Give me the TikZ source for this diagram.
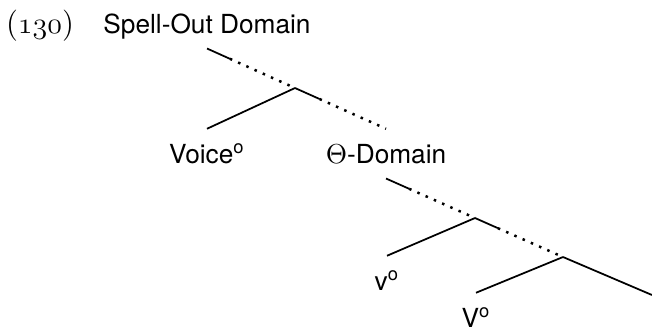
\documentclass[tikz,border=0pt]{standalone}
\usepackage{fontspec}
\setsansfont{TeX Gyre Heros}
\usetikzlibrary{calc}

\begin{document}
\begin{tikzpicture}[
  x=0.4pt, y=-0.4pt,
  lbl/.style={font=\sffamily\fontsize{10.5}{12}\selectfont, anchor=base, inner xsep=0pt, inner ysep=6pt, text height=7.5pt, text depth=0pt},
  branch/.style={line width=0.7pt},
  dots/.style={line width=1pt, dash pattern=on 1pt off 2.6pt},
]
  \useasboundingbox (0,0) rectangle (652,329);

  % Nodes
  \node[anchor=base, inner sep=0pt, font=\fontsize{12.5}{14}\selectfont] (ex) at (40,33) {({\usefont{OML}{cmm}{m}{it}130})};
  \node[lbl] (SO) at (207,33) {Spell-Out Domain};
  \node[lbl] (VC) at (207,163) {Voice\textsuperscript{o}};
  \node[lbl] (TD) at (386,163) {$\Theta$-Domain};
  \node[lbl] (sv) at (387,290) {v\textsuperscript{o}};
  \node[lbl] (BV) at (476,327) {V\textsuperscript{o}};

  % Branching points
  \coordinate (b1) at (295,88);
  \coordinate (b2) at (475,218);
  \coordinate (b3) at (563,257);
  \coordinate (end) at (652,295);

  % Edges
  \draw[branch] (SO.south) -- ($(SO.south)!.26!(b1)$);
  \draw[dots] ($(SO.south)!.26!(b1)$) -- (b1);
  \draw[branch] (b1) -- (VC.north);
  \draw[branch] (b1) -- ($(b1)!.27!(TD.north)$);
  \draw[dots] ($(b1)!.27!(TD.north)$) -- (TD.north);

  \draw[branch] (TD.south) -- ($(TD.south)!.26!(b2)$);
  \draw[dots] ($(TD.south)!.26!(b2)$) -- (b2);
  \draw[branch] (b2) -- (sv.north);
  \draw[branch] (b2) -- ($(b2)!.26!(b3)$);
  \draw[dots] ($(b2)!.26!(b3)$) -- (b3);
  \draw[branch] (b3) -- (BV.north);
  \draw[branch] (b3) -- (end);
\end{tikzpicture}
\end{document}
